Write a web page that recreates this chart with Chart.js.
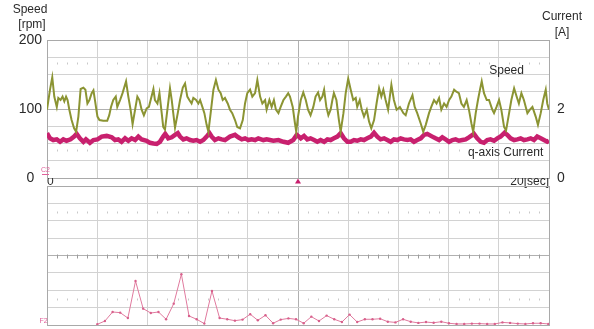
<!DOCTYPE html>
<html>
<head>
<meta charset="utf-8">
<script src="https://cdn.jsdelivr.net/npm/chart.js@4.4.0/dist/chart.umd.min.js"></script>
<style>
    html, body { margin: 0; padding: 0; background: #fff; }
    #wrap { position: relative; width: 594px; height: 329px; }
    #wrap canvas { position: absolute; left: 0; top: 0; }
</style>
</head>
<body>
<div id="wrap">
    <canvas id="trend_Chart" width="594" height="329"></canvas>
    <canvas id="spectrum_Chart" width="594" height="329"></canvas>
</div>
<script>
// speed trace [sec] / [rpm]
const speedTime = [
    0.00, 0.12, 0.21, 0.29, 0.39, 0.45, 0.54, 0.62, 0.69, 0.76,
    0.82, 0.89, 0.98, 1.08, 1.16, 1.25, 1.34, 1.45, 1.53, 1.61,
    1.69, 1.78, 1.85, 1.91, 2.01, 2.09, 2.24, 2.40, 2.48, 2.55,
    2.64, 2.74, 2.80, 2.91, 3.01, 3.15, 3.24, 3.33, 3.41, 3.51,
    3.60, 3.68, 3.77, 3.86, 3.97, 4.06, 4.13, 4.24, 4.30, 4.40,
    4.48, 4.57, 4.63, 4.70, 4.81, 4.90, 4.97, 5.03, 5.10, 5.21,
    5.30, 5.41, 5.50, 5.59, 5.67, 5.76, 5.83, 5.94, 6.03, 6.10,
    6.19, 6.27, 6.36, 6.43, 6.52, 6.63, 6.73, 6.83, 6.92, 7.00,
    7.09, 7.20, 7.29, 7.38, 7.49, 7.58, 7.69, 7.80, 7.89, 7.98,
    8.09, 8.18, 8.29, 8.38, 8.49, 8.58, 8.69, 8.75, 8.86, 8.95,
    9.04, 9.12, 9.22, 9.31, 9.42, 9.52, 9.61, 9.68, 9.79, 9.88,
    9.93, 10.00, 10.11, 10.21, 10.31, 10.40, 10.50, 10.61, 10.70, 10.80,
    10.88, 10.97, 11.04, 11.13, 11.21, 11.30, 11.37, 11.43, 11.53, 11.63,
    11.70, 11.81, 11.90, 12.00, 12.10, 12.20, 12.30, 12.36, 12.46, 12.54,
    12.63, 12.74, 12.83, 12.92, 13.03, 13.13, 13.23, 13.32, 13.40, 13.49,
    13.59, 13.72, 13.82, 13.93, 14.06, 14.20, 14.29, 14.42, 14.56, 14.65,
    14.75, 14.89, 14.99, 15.09, 15.22, 15.31, 15.42, 15.52, 15.62, 15.71,
    15.82, 15.92, 16.02, 16.11, 16.22, 16.31, 16.41, 16.51, 16.61, 16.72,
    16.81, 16.91, 16.98, 17.08, 17.17, 17.25, 17.32, 17.41, 17.52, 17.61,
    17.74, 17.81, 17.91, 18.01, 18.10, 18.21, 18.29, 18.41, 18.50, 18.61,
    18.71, 18.80, 18.90, 19.00, 19.14, 19.24, 19.34, 19.47, 19.56, 19.67,
    19.77, 19.87, 19.93, 20.00
];
const speedRpm = [
    99, 128, 146, 118, 103, 116, 113, 118, 111, 118,
    113, 99, 84, 72, 67, 89, 129, 131, 128, 108,
    113, 123, 127, 113, 89, 84, 83, 83, 91, 103,
    113, 118, 103, 113, 123, 140, 118, 99, 78, 99,
    118, 113, 99, 91, 101, 103, 113, 129, 113, 108,
    123, 94, 74, 70, 103, 130, 113, 94, 73, 94,
    113, 131, 137, 118, 113, 108, 116, 113, 108, 113,
    103, 94, 77, 67, 94, 128, 142, 128, 123, 113,
    116, 108, 99, 94, 84, 74, 72, 84, 108, 123,
    128, 118, 123, 142, 118, 108, 113, 99, 113, 103,
    113, 99, 94, 103, 113, 118, 123, 118, 103, 79,
    67, 89, 113, 124, 113, 99, 91, 103, 118, 124,
    113, 118, 128, 103, 91, 99, 113, 123, 113, 84,
    67, 94, 123, 144, 128, 113, 116, 103, 113, 99,
    89, 99, 82, 72, 84, 108, 130, 118, 128, 113,
    99, 135, 113, 99, 103, 94, 91, 108, 120, 103,
    94, 79, 67, 77, 94, 103, 113, 108, 116, 99,
    108, 103, 113, 118, 128, 125, 123, 108, 103, 113,
    99, 79, 67, 94, 113, 128, 140, 123, 113, 113,
    99, 94, 103, 113, 99, 74, 69, 94, 113, 130,
    118, 108, 123, 113, 94, 99, 103, 89, 77, 94,
    113, 128, 108, 99
];

// q-axis current trace [sec] / [A]
const currentTime = [
    0.00, 0.12, 0.25, 0.39, 0.52, 0.65, 0.78, 0.94, 1.08, 1.18,
    1.31, 1.45, 1.55, 1.71, 1.85, 2.01, 2.18, 2.38, 2.58, 2.71,
    2.84, 2.97, 3.11, 3.24, 3.37, 3.51, 3.64, 3.77, 3.97, 4.10,
    4.24, 4.37, 4.50, 4.63, 4.71, 4.83, 4.97, 5.10, 5.21, 5.30,
    5.43, 5.56, 5.70, 5.83, 5.96, 6.10, 6.23, 6.36, 6.47, 6.56,
    6.69, 6.83, 6.96, 7.09, 7.29, 7.49, 7.62, 7.76, 7.89, 8.02,
    8.15, 8.29, 8.42, 8.62, 8.75, 8.88, 9.02, 9.22, 9.42, 9.61,
    9.81, 9.95, 10.11, 10.24, 10.37, 10.50, 10.64, 10.77, 10.90, 11.04,
    11.17, 11.30, 11.43, 11.57, 11.70, 11.83, 11.97, 12.10, 12.23, 12.36,
    12.50, 12.63, 12.76, 12.90, 13.03, 13.16, 13.29, 13.43, 13.56, 13.69,
    13.82, 13.96, 14.09, 14.22, 14.36, 14.49, 14.62, 14.75, 14.89, 15.02,
    15.15, 15.35, 15.48, 15.62, 15.75, 15.88, 16.02, 16.15, 16.28, 16.41,
    16.55, 16.68, 16.81, 17.01, 17.14, 17.28, 17.41, 17.54, 17.67, 17.81,
    17.94, 18.07, 18.23, 18.34, 18.47, 18.61, 18.74, 18.87, 19.00, 19.14,
    19.27, 19.40, 19.53, 19.67, 19.80, 19.93, 20.00
];
const currentAmp = [
    1.30, 1.15, 1.10, 1.12, 1.05, 1.12, 1.08, 1.12, 1.20, 1.28,
    1.15, 1.05, 1.12, 1.02, 1.10, 1.12, 1.20, 1.22, 1.18, 1.10,
    1.12, 1.05, 1.15, 1.08, 1.15, 1.10, 1.20, 1.12, 1.08, 1.02,
    1.00, 0.99, 1.05, 1.20, 1.28, 1.15, 1.18, 1.25, 1.30, 1.20,
    1.12, 1.15, 1.10, 1.08, 1.10, 1.05, 1.10, 1.20, 1.30, 1.20,
    1.10, 1.15, 1.12, 1.10, 1.20, 1.25, 1.18, 1.12, 1.15, 1.10,
    1.12, 1.10, 1.15, 1.10, 1.12, 1.10, 1.08, 1.10, 1.05, 1.02,
    1.10, 1.25, 1.15, 1.22, 1.12, 1.15, 1.10, 1.05, 1.10, 1.05,
    1.12, 1.10, 1.15, 1.20, 1.30, 1.15, 1.05, 1.05, 1.10, 1.08,
    1.12, 1.10, 1.15, 1.20, 1.31, 1.20, 1.12, 1.15, 1.10, 1.05,
    1.12, 1.10, 1.15, 1.12, 1.10, 1.12, 1.05, 1.10, 1.15, 1.25,
    1.28, 1.20, 1.15, 1.10, 1.18, 1.12, 1.05, 1.10, 1.12, 1.08,
    1.10, 1.12, 1.18, 1.28, 1.15, 1.05, 1.02, 1.10, 1.12, 1.08,
    1.15, 1.20, 1.31, 1.25, 1.15, 1.10, 1.12, 1.15, 1.10, 1.12,
    1.15, 1.10, 1.20, 1.15, 1.10, 1.05, 1.08
];

// lower panel: spectrum level per bin (in grid divisions)
const spectrumLevel = [
    0.04, 0.23, 0.75, 0.71, 0.40, 2.53, 0.94, 0.69, 0.75, 0.33,
    1.23, 2.92, 0.52, 0.33, 0.08, 1.96, 0.40, 0.33, 0.25, 0.31,
    0.62, 0.27, 0.56, 0.10, 0.31, 0.38, 0.33, 0.10, 0.48, 0.23,
    0.54, 0.33, 0.17, 0.60, 0.17, 0.33, 0.33, 0.36, 0.19, 0.15,
    0.33, 0.19, 0.12, 0.17, 0.13, 0.19, 0.10, 0.06, 0.06, 0.08,
    0.08, 0.06, 0.06, 0.15, 0.12, 0.08, 0.06, 0.10, 0.10, 0.06
];

// axis divisions and labels
const timeTicks = [0, 2, 4, 6, 8, 10, 12, 14, 16, 18, 20];
const speedTicks = [0, 25, 50, 75, 100, 125, 150, 175, 200];
const currentTicks = [0, 2, 4];
const spectrumTicks = [0, 1, 2, 3, 4, 5, 6, 7, 8];
const timeTickLabels = { 0: '0', 20: '20[sec]' };
const speedTickLabels = { 0: '0  ', 100: '100', 200: '200' };
const currentTickLabels = { 0: '0', 2: '2' };

Chart.defaults.font.family = '"Liberation Sans", Arial, sans-serif';
Chart.defaults.color = '#2a2a2a';

const GRID = '#d2d2d2';
const GRID_DARK = '#b0b0b0';
const EDGE = '#a9a9a9';
const PINK = '#c8206e';

const setTicks = (values) => (scale) => { scale.ticks = values.map(v => ({ value: v })); };

// small minor-tick rows like on the scope screen
function minorRow(chart, yScale, value, color, half) {
    const ctx = chart.ctx;
    const xs = chart.scales.x;
    const yp = Math.round(yScale.getPixelForValue(value)) + 0.5;
    ctx.save();
    ctx.strokeStyle = color;
    ctx.lineWidth = 1;
    for (let i = 1; i < 50; i++) {
        if (i % 5 === 0) continue;
        const xp = Math.round(xs.getPixelForValue(i * 0.4)) + 0.5;
        ctx.beginPath();
        ctx.moveTo(xp, yp - half);
        ctx.lineTo(xp, yp + half);
        ctx.stroke();
    }
    ctx.restore();
}

const trendMarks = {
    id: 'trendMarks',
    beforeDatasetsDraw(chart) {
        minorRow(chart, chart.scales.y, 166, '#c8c8c8', 1);
        minorRow(chart, chart.scales.y, 41, '#c8c8c8', 1);
    },
    afterDraw(chart) {
        const { ctx, chartArea, scales } = chart;
        ctx.save();
        ctx.fillStyle = '#2a2a2a';
        ctx.textBaseline = 'middle';
        ctx.textAlign = 'center';
        ctx.font = '12px "Liberation Sans", Arial';
        ctx.fillText('Speed', 30, 10);
        ctx.fillText('[rpm]', 32, 25);
        ctx.fillText('Current', 562, 17);
        ctx.fillText('[A]', 562, 33);
        // in-plot series names
        ctx.textAlign = 'left';
        ctx.fillText('Speed', scales.x.getPixelForValue(17.62), scales.y.getPixelForValue(156));
        ctx.fillText('q-axis Current', scales.x.getPixelForValue(16.77), scales.y1.getPixelForValue(0.72));
        // channel marker
        ctx.fillStyle = '#e0609a';
        ctx.strokeStyle = '#e0609a';
        ctx.font = '7px "Liberation Sans", Arial';
        ctx.textAlign = 'center';
        ctx.fillText('C2', 45.5, 170);
        ctx.beginPath();
        ctx.moveTo(42, 174.5);
        ctx.lineTo(49, 174.5);
        ctx.stroke();
        // trigger position
        const tx = scales.x.getPixelForValue(10);
        ctx.fillStyle = PINK;
        ctx.beginPath();
        ctx.moveTo(tx, chartArea.bottom + 0.5);
        ctx.lineTo(tx - 3, chartArea.bottom + 5.5);
        ctx.lineTo(tx + 3, chartArea.bottom + 5.5);
        ctx.closePath();
        ctx.fill();
        ctx.restore();
    }
};

const spectrumMarks = {
    id: 'spectrumMarks',
    beforeDatasetsDraw(chart) {
        minorRow(chart, chart.scales.y, 6.5, '#c8c8c8', 1);
        minorRow(chart, chart.scales.y, 1.5, '#c8c8c8', 1);
        minorRow(chart, chart.scales.y, 4, '#9c9c9c', 2);
    },
    afterDraw(chart) {
        const ctx = chart.ctx;
        ctx.save();
        ctx.fillStyle = '#e0609a';
        ctx.font = '7px "Liberation Sans", Arial';
        ctx.textAlign = 'center';
        ctx.textBaseline = 'middle';
        ctx.fillText('F2', 43.5, 321.5);
        ctx.restore();
    }
};

document.addEventListener('DOMContentLoaded', (event) => {

    // upper panel: speed and q-axis current vs time
    const ctx_trend = document.getElementById('trend_Chart').getContext('2d');
    new Chart(ctx_trend, {
        type: 'line',
        data: {
            datasets: [{
                label: 'Speed',
                data: speedTime.map((t, i) => ({ x: t, y: speedRpm[i] })),
                yAxisID: 'y',
                borderColor: '#8b9433',
                borderWidth: 2,
                pointRadius: 0,
                tension: 0
            }, {
                label: 'q-axis Current',
                data: currentTime.map((t, i) => ({ x: t, y: currentAmp[i] })),
                yAxisID: 'y1',
                borderColor: PINK,
                borderWidth: 4.5,
                pointRadius: 0,
                tension: 0
            }]
        },
        options: {
            responsive: false,
            animation: false,
            layout: { padding: { top: 40, left: 0, right: 0, bottom: 0 } },
            plugins: {
                legend: { display: false },
                tooltip: { enabled: false }
            },
            scales: {
                x: {
                    type: 'linear',
                    min: 0,
                    max: 20,
                    afterBuildTicks: setTicks(timeTicks),
                    afterFit: (scale) => { scale.height = 151; },
                    grid: {
                        drawTicks: false,
                        color: (c) => (c.tick && (c.tick.value === 10) ? GRID_DARK : (c.tick && c.tick.value === 20 ? EDGE : GRID))
                    },
                    border: { color: EDGE },
                    ticks: {
                        autoSkip: false,
                        maxRotation: 0,
                        align: 'inner',
                        padding: -4,
                        font: { size: 12 },
                        callback: (value) => timeTickLabels[value] || ''
                    }
                },
                y: {
                    min: 0,
                    max: 200,
                    afterBuildTicks: setTicks(speedTicks),
                    afterFit: (scale) => { scale.width = 47; },
                    grid: {
                        drawTicks: false,
                        color: (c) => (c.tick && c.tick.value === 100 ? GRID_DARK : (c.tick && c.tick.value === 200 ? EDGE : GRID))
                    },
                    border: { color: EDGE },
                    ticks: {
                        autoSkip: false,
                        padding: 5,
                        font: { size: 14 },
                        callback: (value) => speedTickLabels[value] || ''
                    }
                },
                y1: {
                    position: 'right',
                    min: 0,
                    max: 4,
                    afterBuildTicks: setTicks(currentTicks),
                    afterFit: (scale) => { scale.width = 45; },
                    grid: { drawOnChartArea: false, drawTicks: false },
                    border: { color: EDGE },
                    ticks: {
                        autoSkip: false,
                        padding: 8,
                        font: { size: 14 },
                        callback: (value) => currentTickLabels[value] || ''
                    }
                }
            }
        },
        plugins: [trendMarks]
    });

    // lower panel: spectrum
    const ctx_spec = document.getElementById('spectrum_Chart').getContext('2d');
    new Chart(ctx_spec, {
        type: 'line',
        data: {
            datasets: [{
                data: spectrumLevel.map((v, i) => ({ x: i, y: v })),
                xAxisID: 'xf',
                borderColor: '#e07a9e',
                backgroundColor: '#d8608c',
                borderWidth: 1,
                pointRadius: 1.2,
                pointBorderWidth: 0,
                tension: 0
            }]
        },
        options: {
            responsive: false,
            animation: false,
            layout: { padding: { top: 186, left: 0, right: 45, bottom: 0 } },
            plugins: {
                legend: { display: false },
                tooltip: { enabled: false }
            },
            scales: {
                x: {
                    type: 'linear',
                    min: 0,
                    max: 20,
                    afterBuildTicks: setTicks(timeTicks),
                    afterFit: (scale) => { scale.height = 4; },
                    grid: {
                        drawTicks: false,
                        color: (c) => (c.tick && (c.tick.value === 10) ? GRID_DARK : (c.tick && c.tick.value === 20 ? EDGE : GRID))
                    },
                    border: { color: EDGE },
                    ticks: { display: false }
                },
                xf: {
                    type: 'linear',
                    display: false,
                    min: -6.58,
                    max: 59.09
                },
                y: {
                    min: 0,
                    max: 8,
                    afterBuildTicks: setTicks(spectrumTicks),
                    afterFit: (scale) => { scale.width = 47; },
                    grid: {
                        drawTicks: false,
                        color: (c) => (c.tick && c.tick.value === 4 ? GRID_DARK : (c.tick && c.tick.value === 8 ? EDGE : GRID))
                    },
                    border: { color: EDGE },
                    ticks: { display: false }
                }
            }
        },
        plugins: [spectrumMarks]
    });
});
</script>
</body>
</html>
